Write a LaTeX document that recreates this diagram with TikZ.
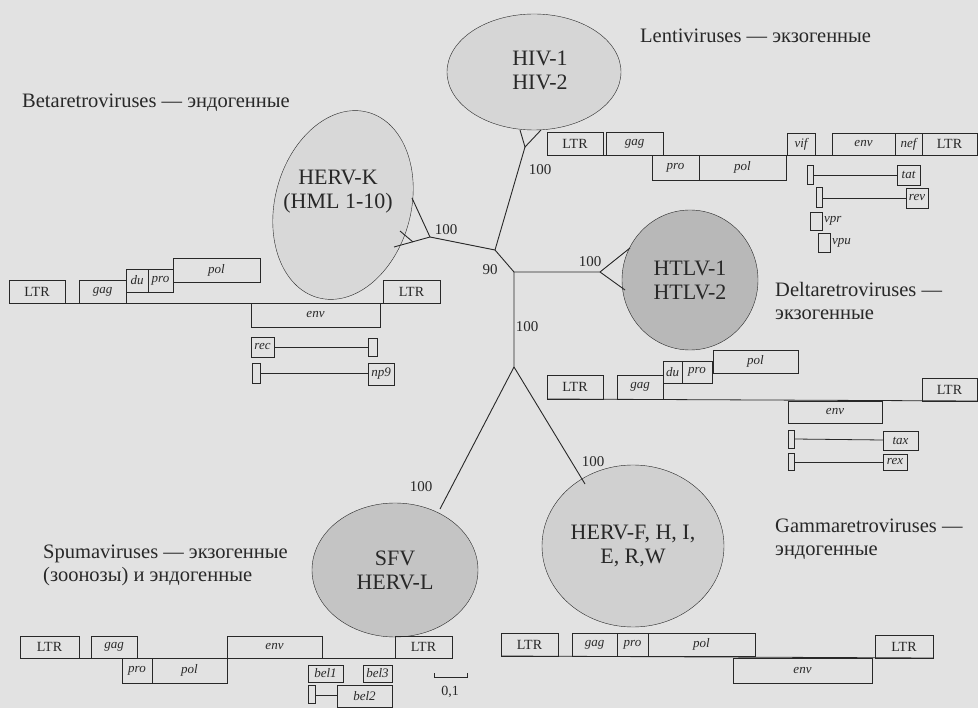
\documentclass[tikz,border=0pt]{standalone}
\usepackage{fontspec}
\setmainfont{Liberation Serif}
\usetikzlibrary{shapes.geometric}

\definecolor{pagebg}{RGB}{226,226,226}
\definecolor{ink}{RGB}{40,40,40}
\definecolor{lentifill}{RGB}{214,214,214}
\definecolor{betafill}{RGB}{216,216,216}
\definecolor{deltafill}{RGB}{184,184,184}
\definecolor{spumafill}{RGB}{196,196,196}
\definecolor{gammafill}{RGB}{208,208,208}

\tikzset{
  clade/.style={draw=ink, ellipse, inner sep=0pt, align=center, text=ink,
    font=\fontsize{22}{24}\selectfont},
  branch/.style={draw=ink, line width=0.9pt},
  boot/.style={text=ink, inner sep=1pt, font=\fontsize{15}{15}\selectfont},
  group/.style={anchor=west, align=left, inner sep=0pt, text=ink,
    font=\fontsize{20.5}{23}\selectfont},
  orf/.style={draw=ink, line width=0.8pt},
  ltrlabel/.style={text=ink, inner sep=0pt, font=\fontsize{14}{14}\selectfont},
  orflabel/.style={text=ink, inner sep=0pt, font=\fontsize{13}{13}\selectfont\itshape}
}

\begin{document}
\begin{tikzpicture}[x=1pt,y=-1pt]
  \useasboundingbox (0,0) rectangle (978,708);
  \fill[pagebg] (0,0) rectangle (978,708);

  % clades
  \node[clade, fill=lentifill, minimum width=174, minimum height=116] (hiv) at (534,72) {};
  \node[text=ink, align=center, font=\fontsize{22}{24}\selectfont] (hivtext) at (540,70) {HIV-1\\HIV-2};
  \node[clade, fill=betafill, minimum width=136, minimum height=192, rotate=-15] (hervk) at (343,205) {};
  \node[text=ink, align=center, font=\fontsize{22}{24}\selectfont] (hervktext) at (338,192) {HERV-K\\(HML 1-10)};
  \node[clade, fill=deltafill, minimum width=136, minimum height=140] (htlv) at (690,280) {HTLV-1\\HTLV-2};
  \node[clade, fill=spumafill, minimum width=166, minimum height=134] (sfv) at (395,570) {SFV\\HERV-L};
  \node[clade, fill=gammafill, minimum width=182, minimum height=162] (hervf) at (633,546) {HERV-F, H, I,\\E, R,W};

  % tree
  \coordinate (c90) at (495,250);
  \coordinate (cbeta) at (430,237);
  \coordinate (kA) at (412,198);
  \coordinate (kB) at (394,247);
  \coordinate (kmid) at (413,242);
  \coordinate (kC) at (400,231);
  \coordinate (clenti) at (525,147);
  \coordinate (lA) at (520,130);
  \coordinate (lB) at (541,130);
  \coordinate (cknee) at (514,272);
  \coordinate (cdelta) at (600,272);
  \coordinate (dA) at (630,248);
  \coordinate (dB) at (625,290);
  \coordinate (cbase) at (514,367);
  \coordinate (sA) at (440,509);
  \coordinate (gA) at (585,484);

  \draw[branch] (lA) -- (clenti) -- (lB);
  \draw[branch] (clenti) -- (c90) -- (cbeta) -- (kA);
  \draw[branch] (cbeta) -- (kB);
  \draw[branch] (kmid) -- (kC);
  \draw[branch] (c90) -- (cknee) -- (cdelta) -- (dA);
  \draw[branch] (cdelta) -- (dB);
  \draw[branch] (cknee) -- (cbase) -- (sA);
  \draw[branch] (cbase) -- (gA);

  \node[boot] (bootlenti) at (540,170) {100};
  \node[boot] (bootbeta) at (446,230) {100};
  \node[boot] (boot90) at (490,270) {90};
  \node[boot] (bootdelta) at (590,262) {100};
  \node[boot] (bootbase) at (527,327) {100};
  \node[boot] (bootspuma) at (421,487) {100};
  \node[boot] (bootgamma) at (593,462) {100};

  % group names
  \node[group] (lenti) at (640,36) {Lentiviruses — экзогенные};
  \node[group] (beta) at (22,103) {Betaretroviruses — эндогенные};
  \node[group] (delta) at (775,301) {Deltaretroviruses —\\экзогенные};
  \node[group] (gamma) at (775,539) {Gammaretroviruses —\\эндогенные};
  \node[group] (spuma) at (43,565) {Spumaviruses — экзогенные\\(зоонозы) и эндогенные};

  % genome maps: backbones
  \draw[orf] (547,155) -- (977,155);
  \draw[orf] (9,303) -- (440,303);
  \draw[orf] (547,399) -- (977,401);
  \draw[orf] (20,658) -- (452,658);
  \draw[orf] (501,656) -- (933,658);

  % LTRs
  \foreach \xa/\ya/\xb/\yb in {547/132/603/155, 922/133/977/155,
      9/280/65/303, 383/280/440/303, 547/375/603/399, 922/378/977/401,
      20/636/79/658, 395/636/452/658, 501/633/558/656, 875/635/933/658} {
    \draw[orf] (\xa,\ya) rectangle (\xb,\yb);
    \node[ltrlabel] at ({(\xa+\xb)/2},{(\ya+\yb)/2}) {LTR};
  }

  % genes
  \foreach \xa/\ya/\xb/\yb/\gene in {
      606/132/663/155/gag, 652/155/699/180/pro, 699/155/786/180/pol,
      787/133/815/155/vif, 832/133/895/155/env, 895/133/922/155/nef,
      897/165/920/185/tat, 906/188/928/208/rev,
      79/280/126/303/gag, 126/269/148/292/du, 148/269/173/292/pro,
      173/258/260/282/pol, 251/303/380/327/env, 251/337/274/357/rec,
      368/363/394/385/np9,
      617/375/663/399/gag, 663/361/682/383/du, 682/361/712/383/pro,
      713/350/798/373/pol, 788/401/882/423/env, 883/431/918/450/tax,
      883/454/907/470/rex,
      91/636/137/658/gag, 122/658/152/683/pro, 152/658/227/683/pol,
      227/636/322/658/env, 308/665/343/682/bel1, 363/665/392/682/bel3,
      337/685/392/707/bel2,
      572/633/617/656/gag, 617/633/648/656/pro, 648/633/755/656/pol,
      733/658/872/683/env} {
    \draw[orf] (\xa,\ya) rectangle (\xb,\yb);
    \node[orflabel] at ({(\xa+\xb)/2},{(\ya+\yb)/2}) {\gene};
  }

  % first exons and splice links
  \foreach \xa/\ya/\xb/\yb in {807/165/813/184, 816/187/822/207,
      810/212/822/230, 818/233/830/252, 368/338/377/356, 252/363/260/383,
      788/430/794/448, 788/453/794/470, 308/685/315/703}
    \draw[orf] (\xa,\ya) rectangle (\xb,\yb);
  \draw[orf] (813,175) -- (897,175);
  \draw[orf] (822,198) -- (906,198);
  \draw[orf] (274,347) -- (368,347);
  \draw[orf] (260,373) -- (368,373);
  \draw[orf] (794,439) -- (883,440);
  \draw[orf] (794,462) -- (883,462);
  \draw[orf] (315,695) -- (337,695);
  \node[orflabel, anchor=west] (vpr) at (824,221) {vpr};
  \node[orflabel, anchor=west] (vpu) at (832,243) {vpu};

  % scale
  \draw[orf] (434,673) -- (434,677) -- (467,677) -- (467,673);
  \node[ltrlabel] (scale) at (450,692) {0,1};
\end{tikzpicture}
\end{document}
